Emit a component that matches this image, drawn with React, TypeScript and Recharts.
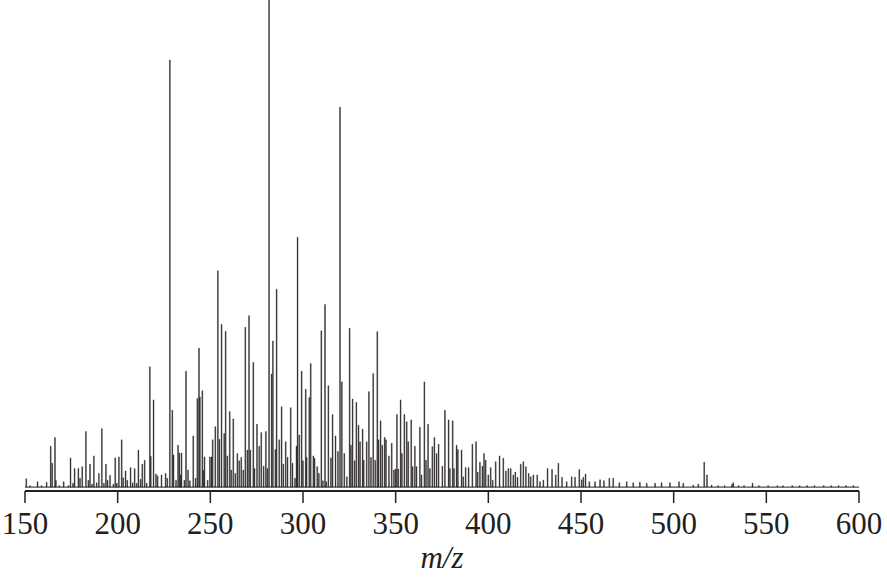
import React from 'react'
import { BarChart, Bar, XAxis, YAxis, ReferenceLine } from 'recharts'

// [m/z, relative intensity %]
const peaks150to225: [number, number][] = [
  [150.7, 1.7], [152.7, 0.3], [156.8, 1.1], [159.0, 0.3], [161.7, 1.0], [163.9, 8.4], [164.7, 4.9],
  [166.2, 10.2], [166.7, 1.4], [168.5, 0.3], [170.9, 1.1], [173.4, 0.3], [174.6, 6.0], [175.9, 0.8],
  [176.8, 3.8], [178.8, 3.8], [179.7, 1.8], [180.9, 4.2], [182.9, 11.4], [184.2, 1.4], [185.1, 4.7],
  [186.2, 0.6], [187.2, 6.4], [188.7, 0.9], [189.9, 2.8], [191.5, 12.0], [192.6, 0.8], [193.7, 4.7],
  [194.6, 1.4], [195.9, 2.4], [197.7, 0.6], [198.7, 6.0], [199.6, 0.8], [200.7, 6.2], [202.2, 9.7],
  [203.0, 1.9], [204.3, 3.3], [205.2, 1.4], [207.0, 4.0], [208.1, 0.9], [209.2, 3.8], [210.3, 0.8],
  [211.2, 7.6], [212.4, 1.6], [213.3, 4.7], [214.6, 5.5], [215.7, 0.8], [217.4, 24.7], [217.9, 6.3],
  [219.4, 17.9], [220.7, 2.7], [221.6, 2.3], [223.7, 2.5],
]

const peaks225to300: [number, number][] = [
  [225.9, 2.8], [226.8, 1.8], [228.2, 87.7], [229.5, 15.8], [230.2, 6.6], [231.5, 1.4], [232.6, 8.6],
  [233.3, 7.0], [234.0, 2.5], [234.5, 7.0], [236.0, 1.4], [236.9, 23.8], [238.0, 3.5], [239.0, 1.3],
  [240.8, 10.5], [242.1, 1.8], [243.0, 18.2], [243.9, 28.5], [244.4, 18.5], [245.7, 19.8], [246.2, 3.4],
  [246.9, 6.2], [248.6, 1.4], [249.8, 6.2], [250.7, 6.2], [251.3, 9.7], [252.7, 12.4], [254.1, 44.4],
  [254.9, 9.8], [256.1, 33.4], [257.5, 11.0], [258.3, 32.0], [259.2, 6.4], [260.5, 15.5], [261.3, 3.5],
  [262.4, 14.0], [263.5, 2.8], [264.6, 6.9], [265.6, 5.4], [266.7, 6.1], [267.8, 3.5], [268.9, 32.8],
  [270.0, 7.6], [270.9, 35.2], [271.6, 7.6], [273.2, 25.6], [273.9, 3.8], [275.2, 12.9], [276.4, 8.4],
  [277.5, 11.2], [278.8, 4.3], [280.0, 11.4], [280.8, 3.8], [281.7, 100], [283.1, 23.2], [283.8, 30.0],
  [285.1, 7.7], [285.8, 40.6], [287.2, 9.7], [288.5, 16.5], [289.4, 4.7], [290.7, 9.3], [291.7, 6.1],
  [293.4, 16.3], [294.4, 4.9], [295.7, 1.8], [296.5, 8.4], [297.1, 51.3], [298.0, 10.7], [299.3, 23.8],
]

const peaks300to375: [number, number][] = [
  [300.0, 5.4], [301.5, 20.1], [302.0, 6.1], [303.4, 18.4], [304.2, 25.4], [305.6, 6.4], [306.3, 5.9],
  [307.7, 4.2], [308.6, 2.8], [309.9, 32.1], [310.8, 1.3], [311.9, 37.5], [312.6, 1.1], [313.7, 20.8],
  [315.1, 6.0], [316.0, 14.9], [317.6, 10.5], [318.9, 7.3], [320.0, 78.0], [321.0, 21.6], [322.3, 6.9],
  [323.7, 2.1], [325.2, 32.6], [325.9, 8.6], [326.8, 18.1], [327.9, 5.4], [328.8, 17.4], [330.0, 12.7],
  [330.8, 9.3], [332.2, 11.9], [332.8, 5.5], [334.4, 9.3], [335.6, 19.6], [336.7, 6.1], [337.9, 23.3],
  [339.0, 5.5], [340.1, 31.9], [340.8, 9.7], [341.9, 13.6], [342.8, 8.6], [344.1, 10.2], [344.8, 9.7],
  [346.4, 6.4], [347.9, 9.0], [349.1, 3.5], [350.0, 3.7], [350.7, 14.9], [351.4, 3.7], [352.7, 17.9],
  [353.4, 6.9], [354.7, 14.9], [356.0, 13.4], [356.8, 9.3], [358.4, 13.8], [359.2, 4.2], [360.4, 8.4],
  [361.3, 4.2], [363.1, 12.3], [364.0, 2.5], [365.5, 21.6], [366.4, 5.5], [367.5, 12.9], [368.5, 3.8],
  [369.8, 8.3], [370.9, 10.2], [372.1, 6.9], [373.2, 8.8],
]

const peaks375to450: [number, number][] = [
  [375.2, 4.3], [376.6, 15.8], [378.6, 13.8], [379.3, 3.8], [380.8, 13.6], [381.5, 3.8], [382.9, 8.6],
  [383.6, 7.7], [385.6, 7.6], [386.5, 2.1], [387.8, 4.0], [389.4, 4.0], [391.4, 8.8], [393.4, 9.3],
  [394.3, 3.1], [395.5, 5.1], [396.8, 4.3], [397.7, 6.9], [398.6, 5.5], [400.0, 2.5], [401.3, 4.0],
  [402.4, 1.4], [404.0, 5.2], [406.1, 6.4], [408.1, 5.9], [409.5, 3.3], [410.8, 3.8], [412.1, 3.8],
  [413.5, 2.5], [414.6, 3.1], [415.8, 2.0], [417.5, 4.7], [418.9, 5.2], [420.3, 4.2], [421.8, 2.8],
  [422.9, 2.1], [424.3, 2.5], [426.4, 2.5], [427.9, 1.1], [429.7, 1.4], [432.0, 3.8], [434.4, 3.6],
  [436.4, 2.5], [437.8, 4.9], [439.8, 2.0], [442.3, 1.1], [445.0, 2.1], [446.8, 2.0], [449.1, 3.6],
]

const peaks450to600: [number, number][] = [
  [450.4, 1.5], [451.3, 2.0], [452.5, 2.7], [454.5, 1.1], [457.6, 1.1], [460.3, 1.5], [462.4, 1.3],
  [465.3, 1.8], [467.4, 1.8], [470.7, 0.9], [474.7, 1.1], [478.2, 0.9], [481.8, 1.0], [485.5, 0.8],
  [490.0, 0.8], [493.5, 0.9], [498.0, 0.9], [502.9, 1.1], [505.2, 0.8], [510.6, 0.4], [513.3, 0.6],
  [516.5, 5.1], [518.0, 2.5], [520.5, 0.4], [524.0, 0.3], [527.5, 0.3], [531.5, 0.6], [532.2, 0.9],
  [535.0, 0.3], [538.0, 0.3], [542.6, 0.8], [546.0, 0.3], [551.0, 0.3], [556.0, 0.3], [559.0, 0.3],
  [564.0, 0.3], [568.0, 0.3], [572.0, 0.3], [576.0, 0.3], [581.0, 0.3], [585.0, 0.3], [589.0, 0.3],
  [593.0, 0.3], [597.0, 0.3],
]

const xTicks = [150, 200, 250, 300, 350, 400, 450, 500, 550, 600]

const data = [...peaks150to225, ...peaks225to300, ...peaks300to375, ...peaks375to450, ...peaks450to600].map(
  ([mz, intensity]) => ({ mz, intensity })
)

const ink = '#231f20'
const font = '"Liberation Serif", "Times New Roman", serif'

export default function App() {
  return (
    <div style={{ position: 'absolute', left: 0, top: 0, background: '#fff' }}>
      <BarChart width={887} height={578} data={data} margin={{ top: 0, right: 28, left: 25, bottom: 0 }}>
        <XAxis
          dataKey="mz"
          type="number"
          domain={[150, 600]}
          ticks={xTicks}
          interval={0}
          height={87}
          tickSize={12}
          tickMargin={9}
          axisLine={{ stroke: ink, strokeWidth: 1.8 }}
          tickLine={{ stroke: ink, strokeWidth: 1.5 }}
          tick={{ fill: ink, fontSize: 31, fontFamily: font }}
          label={{
            value: 'm/z',
            position: 'insideBottom',
            offset: 10,
            fill: ink,
            fontSize: 31,
            fontFamily: font,
            fontStyle: 'italic',
          }}
        />
        <YAxis hide domain={[-0.8, 100]} allowDataOverflow />
        <ReferenceLine y={0} stroke={ink} strokeWidth={1} />
        <Bar dataKey="intensity" fill={ink} stroke={ink} strokeWidth={0.4} barSize={1} isAnimationActive={false} />
      </BarChart>
    </div>
  )
}
